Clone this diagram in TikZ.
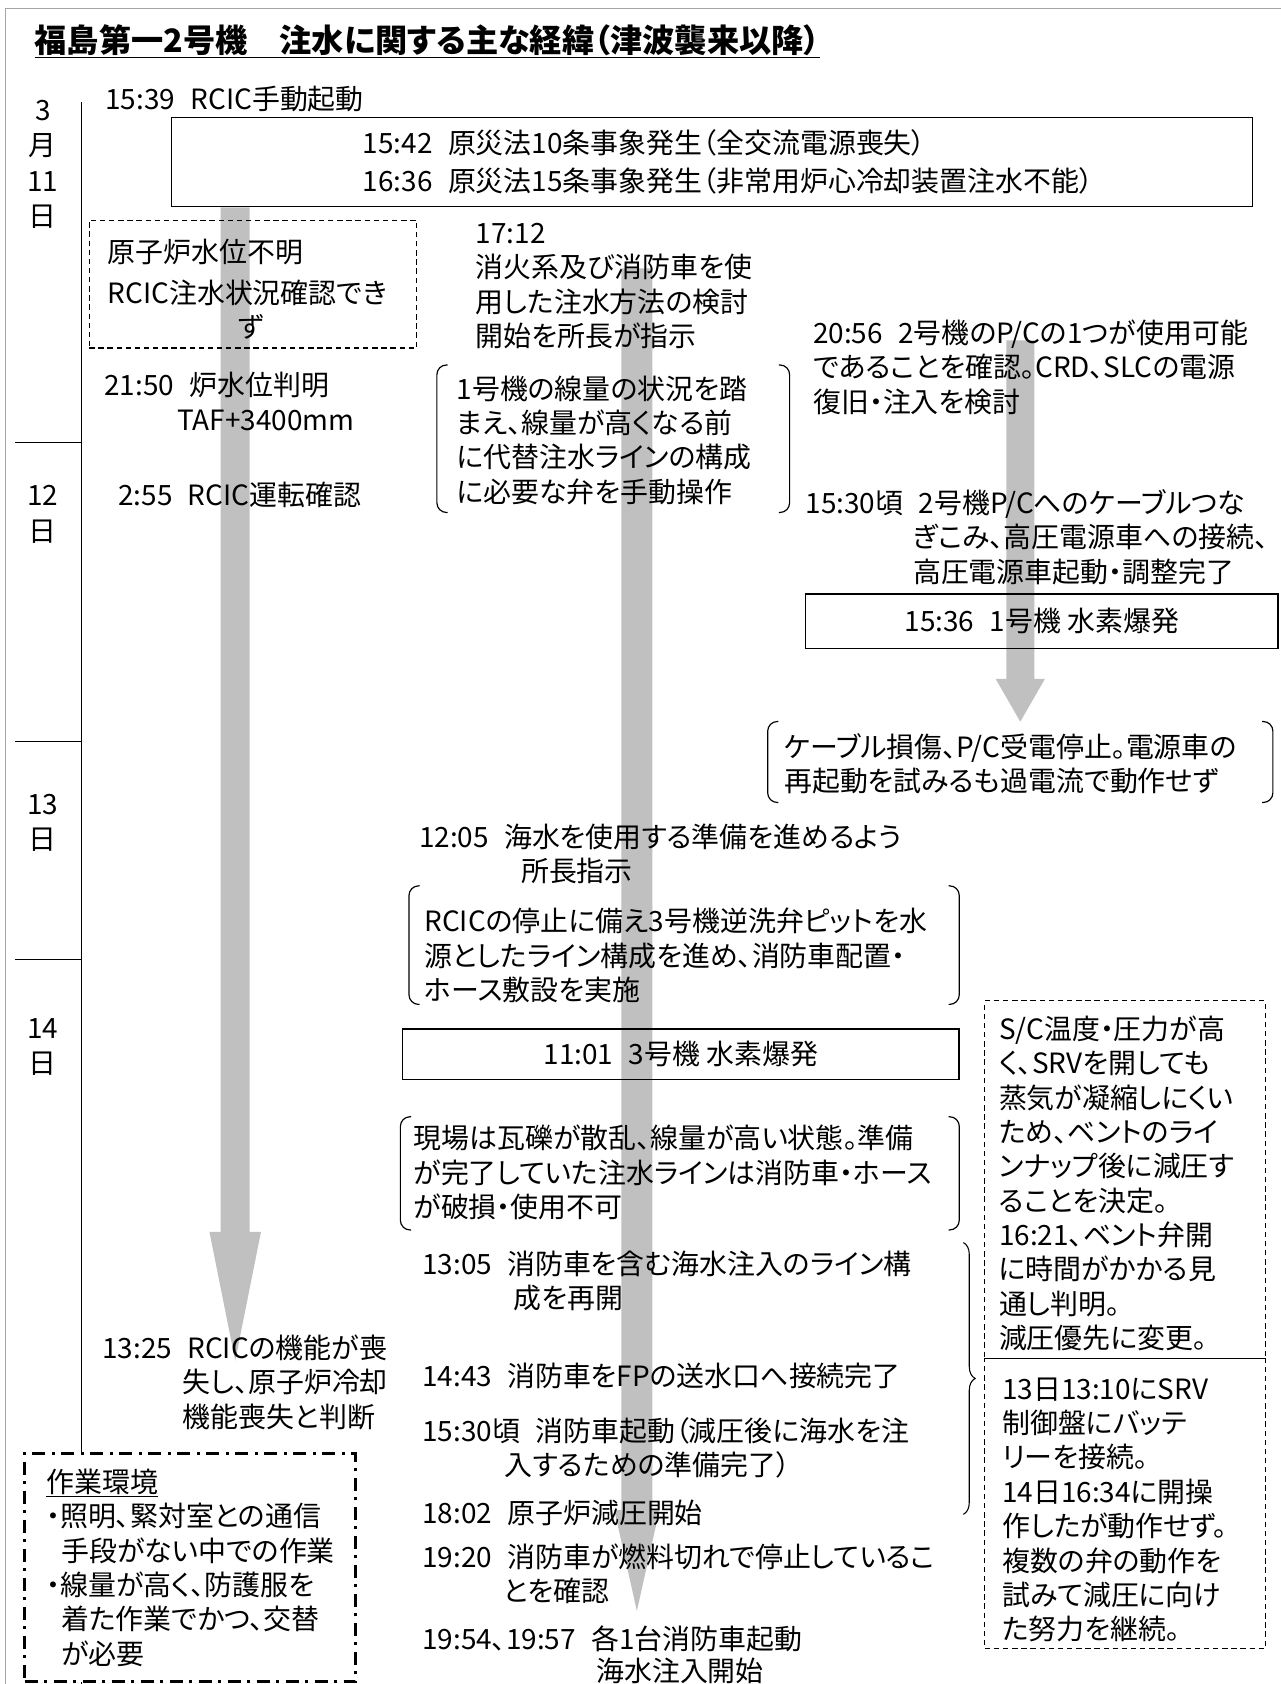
\documentclass[tikz,border=0pt]{standalone}
\usepackage{fontspec}
\setmainfont{Noto Sans CJK JP}[RawFeature=+palt]
\usetikzlibrary{decorations.pathreplacing}
\definecolor{flowgray}{RGB}{192,192,192}
\definecolor{framegray}{RGB}{165,165,165}
\newcommand{\tsp}{\hspace{0.55em}}

\begin{document}
\begin{tikzpicture}[x=1pt,y=-1pt,
  body/.style={anchor=north west,yshift=20pt,inner sep=0pt,align=left,
    font=\fontsize{26}{32}\selectfont,execute at begin node=\rule{0pt}{24pt}},
  daylbl/.style={inner sep=0pt,align=center,font=\fontsize{26}{33}\selectfont},
  evbox/.style={draw,line width=1.2pt,inner sep=0pt,align=left,font=\fontsize{26}{35}\selectfont},
  dashbox/.style={draw,line width=1pt,dash pattern=on 5pt off 3.5pt,inner sep=0pt},
  workbox/.style={draw,fill=white,line width=2.6pt,dash pattern=on 12pt off 6pt on 3pt off 6pt,inner sep=0pt},
  brkframe/.style={inner sep=0pt},
  brkline/.style={line width=1.1pt,rounded corners=9pt}]
\useasboundingbox (0,0) rectangle (1192,1568);
% frame and flow arrows
\draw[framegray,line width=1.5pt] (5,1580) -- (5,8) -- (1200,8);
\foreach \cx/\yt/\hw/\yh/\hh/\yp in {219/193/13.5/1147/24/1267,593/250/14.5/1406/21/1500,950/317/13/632/23/672}
  \fill[flowgray] ({\cx-\hw},\yt) -- ({\cx+\hw},\yt) -- ({\cx+\hw},\yh) -- ({\cx+\hh},\yh)
    -- (\cx,\yp) -- ({\cx-\hh},\yh) -- ({\cx-\hw},\yh) -- cycle;
% day axis
\draw[line width=1pt] (76,95) -- (76,1580);
\foreach \y in {412,690,893} \draw[line width=1pt] (14,\y) -- (76,\y);
\node[anchor=base west,inner sep=0pt,font=\bfseries\fontsize{30}{32}\selectfont] (title) at (32,49)
  {\underline{福島第一2号機　注水に関する主な経緯（津波襲来以降）}};
\node[daylbl] (d11) at (40,153) {3\\月\\11\\日};
\node[daylbl] (d12) at (40,479) {12\\日};
\node[daylbl] (d13) at (40,766) {13\\日};
\node[daylbl] (d14) at (40,975) {14\\日};

% boxes
\node[evbox,minimum width=1006,minimum height=83] (sbo) at (663,151)
  {\hspace*{30pt}15:42\tsp 原災法10条事象発生（全交流電源喪失）\\\hspace*{30pt}16:36\tsp 原災法15条事象発生（非常用炉心冷却装置注水不能）};
\node[evbox,minimum width=440,minimum height=51] (h1) at (970,578.5) {15:36\tsp 1号機 水素爆発};
\node[evbox,minimum width=518,minimum height=47] (h3) at (634,981.5) {11:01\tsp 3号機 水素爆発};
\node[dashbox,minimum width=305,minimum height=119] (unk) at (235.5,264.5) {};
\node[dashbox,minimum width=261,minimum height=333] (vent) at (1047.5,1098.5) {};
\node[dashbox,minimum width=261,minimum height=270] (srv) at (1047.5,1400) {};
\node[brkframe,minimum width=328,minimum height=137] (brk1) at (571,408.5) {};
\node[brkframe,minimum width=470,minimum height=75] (brk2) at (950,709.5) {};
\node[brkframe,minimum width=512,minimum height=110] (brk3) at (637,880) {};
\node[brkframe,minimum width=520,minimum height=105] (brk4) at (633,1092.5) {};
\foreach \b in {brk1,brk2,brk3,brk4} {
  \draw[brkline] ([xshift=10pt]\b.north west) -- (\b.north west) -- (\b.south west) -- ([xshift=10pt]\b.south west);
  \draw[brkline] ([xshift=-10pt]\b.north east) -- (\b.north east) -- (\b.south east) -- ([xshift=-10pt]\b.south east);
}
\node[workbox,minimum width=308,minimum height=213] (env) at (177,1459.5) {};
\coordinate (brtop) at (897,1157);
\coordinate (brbot) at (897,1410);
\draw[decorate,decoration={brace,amplitude=11pt},line width=1pt] (brtop) -- (brbot);

% texts
\node[body] (t1539) at (98,97.5) {15:39\tsp RCIC手動起動};
\node[body] (tunk) at (100,242.5) {原子炉水位不明\\[6pt]RCIC注水状況確認でき\\\hspace*{122pt}ず};
\node[body] (t1712) at (443,227.5) {17:12\\消火系及び消防車を使\\用した注水方法の検討\\開始を所長が指示};
\node[body] (t2056) at (757,317.5) {20:56\tsp 2号機のP/Cの1つが使用可能\\であることを確認。CRD、SLCの電源\\復旧・注入を検討};
\node[body] (t2150) at (97,366.5) {21:50\tsp 炉水位判明\\\hspace*{68pt}TAF+3400mm};
\node[body] (tb1) at (425,369.5) {1号機の線量の状況を踏\\まえ、線量が高くなる前\\に代替注水ラインの構成\\に必要な弁を手動操作};
\node[body] (t0255) at (110,466.5) {2:55\tsp RCIC運転確認};
\node[body] (t1530a) at (750,475.5) {15:30頃\tsp 2号機P/Cへのケーブルつな\\\hspace*{100pt}ぎこみ、高圧電源車への接続、\\\hspace*{100pt}高圧電源車起動・調整完了};
\node[body] (tb2) at (730,702.5) {ケーブル損傷、P/C受電停止。電源車の\\再起動を試みるも過電流で動作せず};
\node[body] (t1205) at (390,786.5) {12:05\tsp 海水を使用する準備を進めるよう\\\hspace*{95pt}所長指示};
\node[body] (tb3) at (395,865.5) {RCICの停止に備え3号機逆洗弁ピットを水\\源としたライン構成を進め、消防車配置・\\ホース敷設を実施};
\node[body] (tb4) at (385,1067.5) {現場は瓦礫が散乱、線量が高い状態。準備\\が完了していた注水ラインは消防車・ホース\\が破損・使用不可};
\node[body] (tvent) at (930,965.5) {S/C温度・圧力が高\\く、SRVを開しても\\蒸気が凝縮しにくい\\ため、ベントのライ\\ンナップ後に減圧す\\ることを決定。\\16:21、ベント弁開\\に時間がかかる見\\通し判明。\\減圧優先に変更。};
\node[body] (tsrv) at (933,1302.5) {13日13:10にSRV\\制御盤にバッテ\\リーを接続。\\14日16:34に開操\\作したが動作せず。\\複数の弁の動作を\\試みて減圧に向け\\た努力を継続。};
\node[body] (t1305) at (393,1184.5) {13:05\tsp 消防車を含む海水注入のライン構\\\hspace*{85pt}成を再開};
\node[body] (t1325) at (95,1262.5) {13:25\tsp RCICの機能が喪\\\hspace*{75pt}失し、原子炉冷却\\\hspace*{75pt}機能喪失と判断};
\node[body] (t1443) at (393,1286.5) {14:43\tsp 消防車をFPの送水口へ接続完了};
\node[body] (t1530b) at (393,1339.5) {15:30頃\tsp 消防車起動（減圧後に海水を注\\\hspace*{77pt}入するための準備完了）};
\node[body] (t1802) at (393,1414.5) {18:02\tsp 原子炉減圧開始};
\node[body] (t1920) at (393,1457) {19:20\tsp 消防車が燃料切れで停止しているこ\\\hspace*{75pt}とを確認};
\node[body] (t1954) at (393,1533.5) {19:54、19:57\tsp 各1台消防車起動\\[-2pt]\hspace*{162pt}海水注入開始};
\node[body] (tenv) at (43,1387.5) {\underline{作業環境}\\・照明、緊対室との通信\\\hspace*{14pt}手段がない中での作業\\・線量が高く、防護服を\\\hspace*{14pt}着た作業でかつ、交替\\\hspace*{14pt}が必要};
\end{tikzpicture}
\end{document}
